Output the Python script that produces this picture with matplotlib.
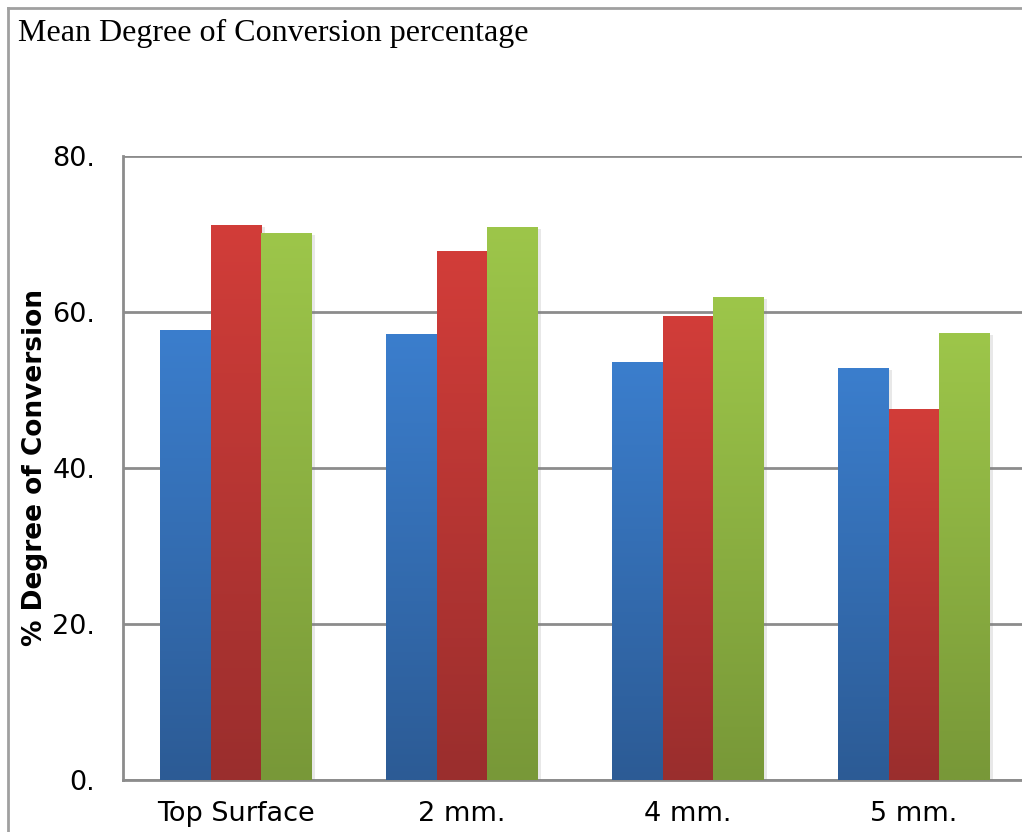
import numpy as np
import matplotlib
matplotlib.use("Agg")
import matplotlib.pyplot as plt
from matplotlib.colors import LinearSegmentedColormap
from matplotlib.lines import Line2D
import matplotlib.patheffects as pe

categories = ["Top Surface", "2 mm.", "4 mm.", "5 mm."]
series1 = [57.7, 57.2, 53.6, 52.8]
series2 = [71.2, 67.8, 59.5, 47.6]
series3 = [70.1, 70.9, 61.9, 57.3]
yticks = [0, 20, 40, 60, 80]
ytick_labels = ["0.", "20.", "40.", "60.", "80."]
title = "Mean Degree of Conversion percentage"
ylabel = "% Degree of Conversion"

colors_top = ["#3b7ecd", "#d23d39", "#9dc64a"]
colors_bot = ["#2c5b95", "#9a2e2d", "#789838"]

W, H = 1022, 832
fig = plt.figure(figsize=(W / 100, H / 100), dpi=100)
fig.patch.set_facecolor("white")

ax = fig.add_axes([123 / W, (H - 780) / H, (1027 - 123) / W, (780 - 156) / H])
ax.set_xlim(-0.5, len(categories) - 0.5)
ax.set_ylim(0, 80)

bw = 0.223
offsets = [-bw, 0, bw]
x = np.arange(len(categories))
grad = np.linspace(0, 1, 256).reshape(-1, 1)
for i, vals in enumerate([series1, series2, series3]):
    cmap = LinearSegmentedColormap.from_list("g%d" % i, [colors_bot[i], colors_top[i]])
    bars = ax.bar(x + offsets[i], vals, width=bw, color=colors_top[i], zorder=3,
                  linewidth=0,
                  path_effects=[pe.SimplePatchShadow(offset=(2.5, -1.5), alpha=0.18, shadow_rgbFace="gray"), pe.Normal()])
    for b in bars:
        bx, by = b.get_x(), b.get_y()
        bwid, bh = b.get_width(), b.get_height()
        im = ax.imshow(grad, extent=[bx, bx + bwid, by, by + bh], origin="lower",
                       cmap=cmap, aspect="auto", zorder=4, interpolation="bilinear")
        im.set_clip_path(b)
ax.set_xlim(-0.5, len(categories) - 0.5)
ax.set_ylim(0, 80)

ax.set_yticks(yticks)
ax.set_yticklabels(ytick_labels, fontsize=19.5, family="DejaVu Sans")
ax.set_xticks(x)
ax.set_xticklabels(categories, fontsize=19.5, family="DejaVu Sans")
ax.tick_params(axis="both", length=0, colors="black")
ax.tick_params(axis="y", pad=20)
ax.tick_params(axis="x", pad=15)
ax.yaxis.grid(True, color="#8c8c8c", linewidth=2, zorder=0)
ax.set_axisbelow(True)
for s in ["top", "right"]:
    ax.spines[s].set_visible(False)
for s in ["left", "bottom"]:
    ax.spines[s].set_color("#8c8c8c")
    ax.spines[s].set_linewidth(2)

ax.set_ylabel(ylabel, fontsize=19, fontweight="bold", family="DejaVu Sans")
ax.yaxis.set_label_coords(-(123 - 48) / (1027 - 123), 0.5)

fig.text(18 / W, 1 - 33 / H, title, fontsize=23, family="Liberation Serif", va="center", ha="left")

fig.add_artist(Line2D([8 / W, 8 / W], [1 - 8 / H, -0.1], color="#a0a0a0", linewidth=2))
fig.add_artist(Line2D([8 / W, 1.1], [1 - 8 / H, 1 - 8 / H], color="#a0a0a0", linewidth=2))

fig.savefig("out.png", dpi=100, facecolor="white")
